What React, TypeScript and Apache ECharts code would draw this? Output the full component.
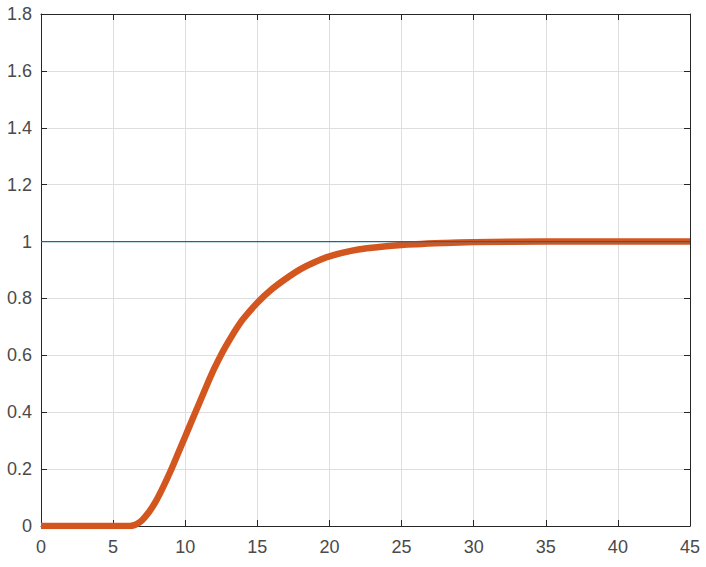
import React, { useEffect, useRef } from "react";
import * as echarts from "echarts";

const timeValues = [0, 6, 6.3, 6.6, 7, 7.5, 8, 8.5, 9, 9.5, 10, 10.5, 11, 11.5, 12, 12.5, 13, 13.5, 14, 15, 16, 17, 18, 19, 20, 22, 25, 28, 30, 35, 40, 45];
const responseValues = [0, 0, 0.001, 0.006, 0.02, 0.05, 0.09, 0.14, 0.195, 0.255, 0.315, 0.375, 0.435, 0.495, 0.552, 0.603, 0.648, 0.69, 0.727, 0.785, 0.832, 0.87, 0.903, 0.928, 0.948, 0.972, 0.988, 0.995, 0.998, 1, 1, 1];
const referenceTimes = [0, 45];
const referenceValues = [1, 1];
const xTickLabels = ["0", "5", "10", "15", "20", "25", "30", "35", "40", "45"];
const yTickLabels = ["0", "0.2", "0.4", "0.6", "0.8", "1", "1.2", "1.4", "1.6", "1.8"];

const AXIS_COLOR = "#262626";
const LABEL_COLOR = "#4a4a4a";
const GRID_COLOR = "#dedede";
const FONT = "'Liberation Sans', Arial, sans-serif";

export default function App() {
  const ref = useRef<HTMLDivElement>(null);
  useEffect(() => {
    if (!ref.current) return;
    const chart = echarts.init(ref.current, undefined, { renderer: "svg" });
    const baseAxisLine = { show: true, lineStyle: { color: AXIS_COLOR, width: 1 } };
    const tick = { show: true, inside: true, length: 6, lineStyle: { color: AXIS_COLOR } };
    chart.setOption({
      animation: false,
      backgroundColor: "#ffffff",
      grid: { left: 41, top: 14, right: 16, bottom: 41, containLabel: false },
      xAxis: [
        {
          type: "value",
          min: 0,
          max: 45,
          interval: 5,
          axisLine: { ...baseAxisLine, onZero: false },
          axisTick: tick,
          splitLine: { show: true, lineStyle: { color: GRID_COLOR, width: 1 } },
          axisLabel: {
            color: LABEL_COLOR,
            fontSize: 18,
            fontFamily: FONT,
            margin: 12,
            formatter: (v: number) => xTickLabels[Math.round(v / 5)] ?? "",
          },
        },
        {
          type: "value",
          position: "top",
          min: 0,
          max: 45,
          interval: 5,
          axisLine: { ...baseAxisLine, onZero: false },
          axisTick: tick,
          splitLine: { show: false },
          axisLabel: { show: false },
        },
      ],
      yAxis: [
        {
          type: "value",
          min: 0,
          max: 1.8,
          interval: 0.2,
          axisLine: { ...baseAxisLine, onZero: false },
          axisTick: tick,
          splitLine: { show: true, lineStyle: { color: GRID_COLOR, width: 1 } },
          axisLabel: {
            color: LABEL_COLOR,
            fontSize: 18,
            fontFamily: FONT,
            margin: 9,
            formatter: (v: number) => yTickLabels[Math.round(v / 0.2)] ?? "",
          },
        },
        {
          type: "value",
          position: "right",
          min: 0,
          max: 1.8,
          interval: 0.2,
          axisLine: { ...baseAxisLine, onZero: false },
          axisTick: tick,
          splitLine: { show: false },
          axisLabel: { show: false },
        },
      ],
      series: [
        {
          type: "line",
          data: timeValues.map((t, i) => [t, responseValues[i]]),
          smooth: 0.2,
          showSymbol: false,
          lineStyle: { color: "#d4561f", width: 6.5, cap: "butt", join: "round" },
          z: 2,
        },
        {
          type: "line",
          data: referenceTimes.map((t, i) => [t, referenceValues[i]]),
          showSymbol: false,
          lineStyle: { color: "#0a6f9e", width: 1.2 },
          z: 3,
        },
      ],
    });
    return () => chart.dispose();
  }, []);
  return (
    <div
      ref={ref}
      style={{ position: "absolute", left: 0, top: 0, width: 706, height: 567 }}
    />
  );
}
